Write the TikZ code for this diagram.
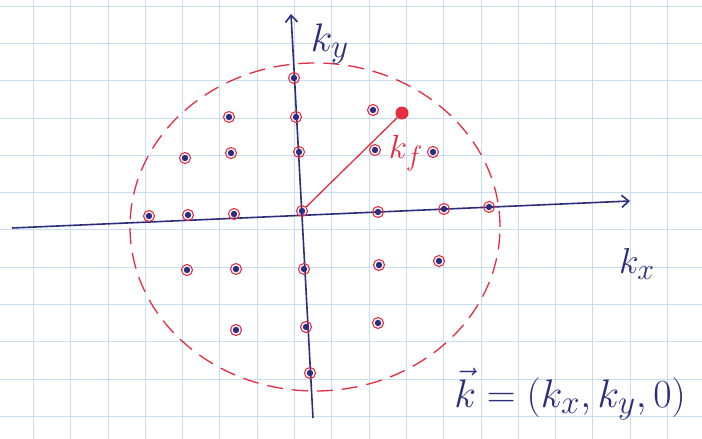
\documentclass[tikz,border=0pt]{standalone}
\usepackage{graphicx}
\usetikzlibrary{arrows.meta}
\definecolor{ink}{RGB}{45,45,125}
\definecolor{inkred}{RGB}{228,45,65}
\definecolor{gridblue}{RGB}{198,222,240}
\begin{document}
\begin{tikzpicture}[x=1pt,y=-1pt,
  kpt/.style={circle,draw=inkred,line width=1.1pt,minimum size=11pt,inner sep=0pt,
    path picture={\fill[ink] (path picture bounding box.center) circle (3.2pt);}},
  axis/.style={draw=ink,line width=1.6pt,-{Straight Barb[length=7pt,width=12pt]}},
  lbl/.style={text=ink,inner sep=0pt,font=\Huge}]
\useasboundingbox (0,0) rectangle (702,439);
\fill[white] (0,0) rectangle (702,439);
% grid paper
\foreach \i in {0,...,19} {\draw[gridblue,line width=0.8pt] (-4+37.3*\i,0) -- (-4+37.3*\i,439);}
\foreach \j in {0,...,12} {\draw[gridblue,line width=0.8pt] (0,6+37.3*\j) -- (702,6+37.3*\j);}
% Fermi circle
\draw[inkred,line width=1.3pt,dash pattern=on 16pt off 9pt] (315,227) ellipse [x radius=185pt,y radius=164pt];
% axes
\coordinate (xl) at (12,228);
\coordinate (xr) at (630,201);
\coordinate (yb) at (313,418);
\coordinate (yt) at (291,14);
\draw[axis] (xl) -- (xr);
\draw[axis] (yb) -- (yt);
\node[lbl] (ky) at (330,44) {\scalebox{1.6}{$k_y$}};
\node[lbl] (kx) at (637,264) {\scalebox{1.45}{$k_x$}};
% points
\node[kpt] (o) at (302,211) {};
\node[kpt] (a1) at (294,78) {};
\node[kpt] (a2) at (296,117) {};
\node[kpt] (a3) at (299,152) {};
\node[kpt] (b1) at (229,117) {};
\node[kpt] (b2) at (231,153) {};
\node[kpt] (b3) at (185,158) {};
\node[kpt] (c1) at (149,216) {};
\node[kpt] (c2) at (188,215) {};
\node[kpt] (c3) at (234,214) {};
\node[kpt] (d1) at (378,212) {};
\node[kpt] (d2) at (444,209) {};
\node[kpt] (d3) at (489,207) {};
\node[kpt] (e1) at (373,110) {};
\node[kpt] (e2) at (375,150) {};
\node[kpt] (e3) at (433,152) {};
\node[kpt] (f1) at (187,270) {};
\node[kpt] (f2) at (236,269) {};
\node[kpt] (f3) at (304,269) {};
\node[kpt] (f4) at (379,265) {};
\node[kpt] (f5) at (439,261) {};
\node[kpt] (g1) at (236,330) {};
\node[kpt] (g2) at (306,327) {};
\node[kpt] (g3) at (378,323) {};
\node[kpt] (h1) at (310,373) {};
% k_f
\node[circle,fill=inkred,minimum size=13pt,inner sep=0pt] (kf) at (402,113) {};
\draw[inkred,line width=1.3pt] (o) -- (kf);
\node[lbl,text=inkred] (kfl) at (406,153) {\scalebox{1.35}{$k_f$}};
% formula
\node[lbl] (formula) at (570,394) {\scalebox{1.6}{$\vec{k}=(k_x,k_y,0)$}};
\end{tikzpicture}
\end{document}
